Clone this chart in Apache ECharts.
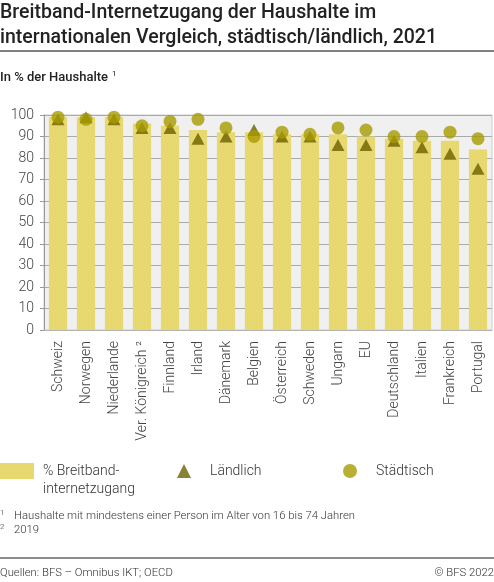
<!DOCTYPE html>
<html><head><meta charset="utf-8">
<script src="https://cdn.jsdelivr.net/npm/echarts@6/dist/echarts.min.js"></script>
<style>html,body{margin:0;padding:0;background:#fff}#c{width:494px;height:582px}</style>
</head><body><div id="c"></div>
<script>
var categories = ['Schweiz','Norwegen','Niederlande','Ver. Königreich ²','Finnland','Irland','Dänemark','Belgien','Österreich','Schweden','Ungarn','EU','Deutschland','Italien','Frankreich','Portugal'];
var breitband = [99,99,99,96,95,93,92,92,91,91,91,90,89,88,88,84];
var laendlich = [98,99,98,94,94,89,90,93,90,90,86,86,88,85,82,75];
var staedtisch = [99,98,99,95,97,98,94,90,92,91,94,93,90,90,92,89];
var yTicks = [0,10,20,30,40,50,60,70,80,90,100];

var FONT = 'Roboto, "Noto Sans", sans-serif';
var chart = echarts.init(document.getElementById('c'), null, {renderer:'canvas'});
chart.setOption({
  animation:false,
  textStyle:{fontFamily:FONT},
  grid:{left:44,right:2,top:115,bottom:252,show:true,backgroundColor:'#f0f0f0',borderColor:'#cccccc',borderWidth:1},
  xAxis:{type:'category',data:categories,
    axisLine:{show:true,lineStyle:{color:'#b5b5b5',width:1}},
    axisTick:{show:false},
    axisLabel:{rotate:90,fontSize:14,color:'#444',fontFamily:FONT,fontWeight:300,margin:11,interval:0}},
  yAxis:{type:'value',min:yTicks[0],max:yTicks[yTicks.length-1],interval:10,
    axisLine:{show:true,lineStyle:{color:'#999',width:1}},
    axisTick:{show:true,length:4,lineStyle:{color:'#999'}},
    axisLabel:{fontSize:14,color:'#444',fontFamily:FONT,fontWeight:300,margin:10},
    splitLine:{show:true,lineStyle:{color:'#aaaaaa',width:1}}},
  legend:[
    {left:0,top:463,padding:0,itemWidth:34,itemHeight:16,icon:'rect',data:['% Breitband-internetzugang'],
     formatter:function(){return '% Breitband-';},
     textStyle:{fontSize:14,color:'#333',fontFamily:FONT,fontWeight:300,padding:[0,0,0,4]}},
    {left:177,top:464,padding:0,itemWidth:14,itemHeight:14,data:['Ländlich'],
     textStyle:{fontSize:14,color:'#333',fontFamily:FONT,fontWeight:300,padding:[0,0,0,14]}},
    {left:343,top:464,padding:0,itemWidth:14,itemHeight:14,data:['Städtisch'],
     textStyle:{fontSize:14,color:'#333',fontFamily:FONT,fontWeight:300,padding:[0,0,0,14]}}
  ],
  series:[
    {name:'% Breitband-internetzugang',type:'bar',data:breitband,barWidth:'65%',itemStyle:{color:'#e8d870'}},
    {name:'Ländlich',type:'scatter',data:laendlich,symbol:'triangle',symbolSize:[13,12],itemStyle:{color:'#6b6100'},z:3},
    {name:'Städtisch',type:'scatter',data:staedtisch,symbol:'circle',symbolSize:13,itemStyle:{color:'#a89b00'},z:4}
  ],
  graphic:[
    {type:'text',left:0,top:1,style:{text:'Breitband-Internetzugang der Haushalte im\ninternationalen Vergleich, städtisch/ländlich, 2021',font:'500 19.5px '+FONT,fill:'#222',lineHeight:25}},
    {type:'line',shape:{x1:0,y1:51,x2:494,y2:51},style:{stroke:'#555',lineWidth:1.5}},
    {type:'text',left:0,top:71,style:{text:'In % der Haushalte',font:'500 13px '+FONT,fill:'#222'}},
    {type:'text',left:112,top:70,style:{text:'1',font:'400 8px '+FONT,fill:'#222'}},
    {type:'text',left:43,top:482,style:{text:'internetzugang',font:'300 14px '+FONT,fill:'#333'}},
    {type:'text',left:0,top:509,style:{text:'1',font:'300 8px '+FONT,fill:'#333'}},
    {type:'text',left:14,top:511,style:{text:'Haushalte mit mindestens einer Person im Alter von 16 bis 74 Jahren',font:'300 11.3px '+FONT,fill:'#333'}},
    {type:'text',left:0,top:523,style:{text:'2',font:'300 8px '+FONT,fill:'#333'}},
    {type:'text',left:14,top:525,style:{text:'2019',font:'300 11.3px '+FONT,fill:'#333'}},
    {type:'line',shape:{x1:0,y1:558,x2:494,y2:558},style:{stroke:'#666',lineWidth:1.5}},
    {type:'text',left:0,top:568,style:{text:'Quellen: BFS – Omnibus IKT; OECD',font:'300 11.3px '+FONT,fill:'#333'}},
    {type:'text',right:0,top:568,style:{text:'© BFS 2022',font:'300 11.3px '+FONT,fill:'#333'}}
  ]
});
</script></body></html>
